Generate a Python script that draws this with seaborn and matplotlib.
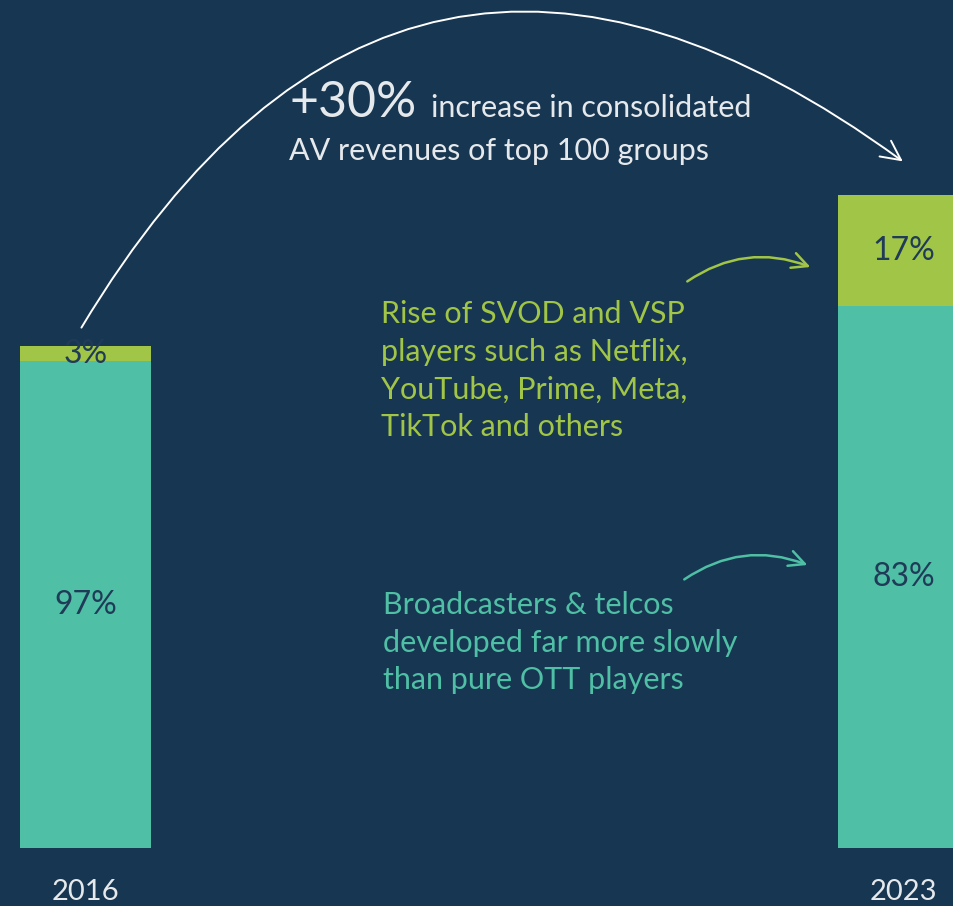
import matplotlib
matplotlib.use("Agg")
import numpy as np
import pandas as pd
import matplotlib.pyplot as plt
import seaborn as sns

# Data
years = ["2016", "2023"]
total_index = [100, 130]          # consolidated AV revenues, 2016 = 100
ott_share = [3, 17]               # SVOD / VSP players, % of total
trad_share = [97, 83]             # broadcasters & telcos, % of total

bg = "#173651"
teal = "#4fbfa5"
green = "#a1c546"
dark = "#1f3b57"
light = "#e6e9ec"

df = pd.DataFrame({"year": years, "total": total_index,
                   "ott": ott_share, "trad": trad_share})
df["trad_value"] = df["total"] * df["trad"] / 100

sns.set_theme(style="white")
plt.rcParams["font.family"] = ["Lato", "DejaVu Sans"]

W, H = 954, 906
fig = plt.figure(figsize=(W / 100, H / 100), dpi=100, facecolor=bg)
ax = fig.add_axes([0, 58 / H, 1, 848 / H])
ax.set_facecolor(bg)

# Stacked bars: full total in green, broadcasters part in teal on top of it
sns.barplot(data=df, x="year", y="total", color=green, saturation=1,
            width=0.16, linewidth=0, ax=ax)
sns.barplot(data=df, x="year", y="trad_value", color=teal, saturation=1,
            width=0.16, linewidth=0, ax=ax)

ax.set_xlim(-0.1045, -0.1045 + W / 818)
ax.set_ylim(0, 848 / 5.02)
ax.set_xlabel("")
ax.set_ylabel("")
ax.set_yticks([])
ax.tick_params(axis="x", length=0, pad=22, labelsize=21, labelcolor=light)
sns.despine(ax=ax, left=True, bottom=True)

# Share labels inside bars
for i, row in df.iterrows():
    ax.text(i, row["trad_value"] / 2, f"{row['trad']}%", ha="center",
            va="center", fontsize=23, color=dark)
    ax.text(i, row["trad_value"] + (row["total"] - row["trad_value"]) / 2,
            f"{row['ott']}%", ha="center", va="center", fontsize=23, color=dark)


def fp(x, y):
    return (x, H - y)


# Big arc from 2016 to 2023
ax.annotate("", xy=fp(905, 163), xycoords="figure pixels",
            xytext=fp(80, 330), textcoords="figure pixels",
            arrowprops=dict(arrowstyle="->,head_length=0.7,head_width=0.35",
                            color="white", lw=1.4, mutation_scale=20,
                            connectionstyle="arc3,rad=-0.55"))

fig.text(289 / W, 1 - 117 / H, "+30%", fontsize=36, color=light,
         va="baseline")
fig.text(431 / W, 1 - 117 / H, "increase in consolidated", fontsize=22,
         color=light, va="baseline")
fig.text(289 / W, 1 - 160 / H, "AV revenues of top 100 groups", fontsize=22,
         color=light, va="baseline")

# Side notes
fig.text(381 / W, 1 - 300 / H,
         "Rise of SVOD and VSP\nplayers such as Netflix,\nYouTube, Prime, Meta,\nTikTok and others",
         fontsize=22, color=green, va="top", linespacing=1.42)
fig.text(383 / W, 1 - 591 / H,
         "Broadcasters & telcos\ndeveloped far more slowly\nthan pure OTT players",
         fontsize=22, color=teal, va="top", linespacing=1.42)

ax.annotate("", xy=fp(813, 268), xycoords="figure pixels",
            xytext=fp(685, 283), textcoords="figure pixels",
            arrowprops=dict(arrowstyle="->,head_length=0.7,head_width=0.35",
                            color=green, lw=1.8, mutation_scale=16,
                            connectionstyle="arc3,rad=-0.27"))
ax.annotate("", xy=fp(810, 566), xycoords="figure pixels",
            xytext=fp(682, 581), textcoords="figure pixels",
            arrowprops=dict(arrowstyle="->,head_length=0.7,head_width=0.35",
                            color=teal, lw=1.8, mutation_scale=16,
                            connectionstyle="arc3,rad=-0.27"))

fig.savefig("out.png", dpi=100, facecolor=bg)
